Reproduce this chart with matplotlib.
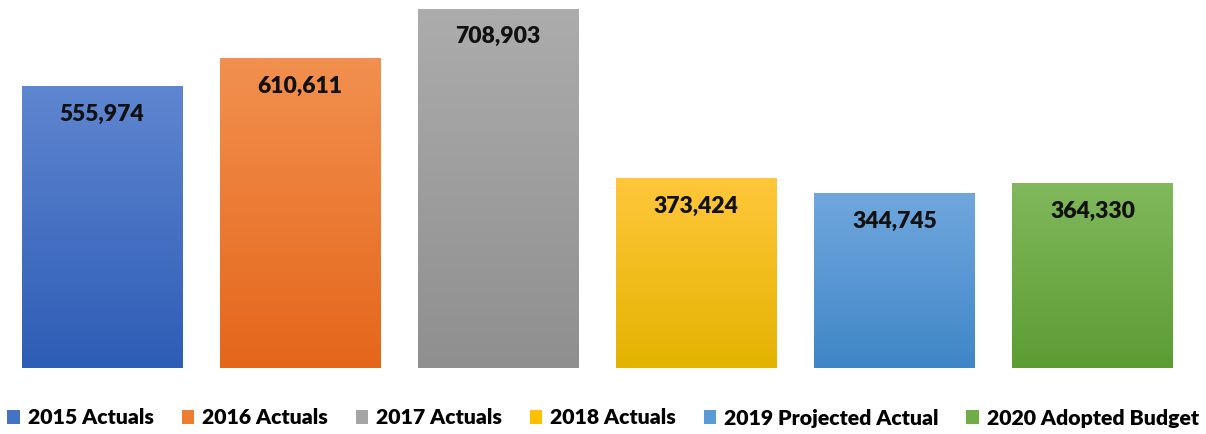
import numpy as np
import matplotlib.pyplot as plt
from matplotlib.colors import LinearSegmentedColormap
from matplotlib.patches import Patch

plt.rcParams['font.family'] = ['Lato', 'DejaVu Sans']

labels = ['2015 Actuals', '2016 Actuals', '2017 Actuals', '2018 Actuals',
          '2019 Projected Actual', '2020 Adopted Budget']
values = [555974, 610611, 708903, 373424, 344745, 364330]

# gradient ends for each bar (top, bottom)
top_colors = ['#5f86d0', '#f2904f', '#acacac', '#ffc73b', '#70a7de', '#80b85b']
bottom_colors = ['#2e5db6', '#e4661a', '#8f8f8f', '#e3b300', '#3f86c6', '#5d9c33']
legend_colors = ['#4472c4', '#ed7d31', '#a5a5a5', '#ffc000', '#5b9bd5', '#70ad47']

fig = plt.figure(figsize=(12.06, 4.34), dpi=100)
ax = fig.add_axes([0.0025, 66 / 434, 0.9855, 368 / 434])

x = np.arange(len(values))
bars = ax.bar(x, values, width=0.81, color=legend_colors, zorder=1)

grad = np.linspace(0, 1, 256).reshape(-1, 1)
for b, c_top, c_bot in zip(bars, top_colors, bottom_colors):
    cmap = LinearSegmentedColormap.from_list('g', [c_bot, c_top])
    x0, w, h = b.get_x(), b.get_width(), b.get_height()
    ax.imshow(grad, cmap=cmap, aspect='auto', origin='lower',
              extent=(x0, x0 + w, 0, h), zorder=2)

for xi, v in zip(x, values):
    ax.annotate(f'{v:,}', (xi, v), xytext=(0, -20), textcoords='offset points',
                ha='center', va='center', fontsize=16.5, fontweight='heavy',
                color='#111111', zorder=3)

ax.set_xlim(-0.5, len(values) - 0.5)
ax.set_ylim(0, 726700)
ax.axis('off')

handles = [Patch(facecolor=c, edgecolor='none') for c in legend_colors]
fig.legend(handles, labels, loc='center', bbox_to_anchor=(0.5, 1 - 418 / 434),
           ncol=6, frameon=False, handlelength=0.6, handleheight=0.6,
           handletextpad=0.35, columnspacing=1.32,
           prop={'size': 15.3, 'weight': 'heavy'})

fig.savefig('out.png', dpi=100)
